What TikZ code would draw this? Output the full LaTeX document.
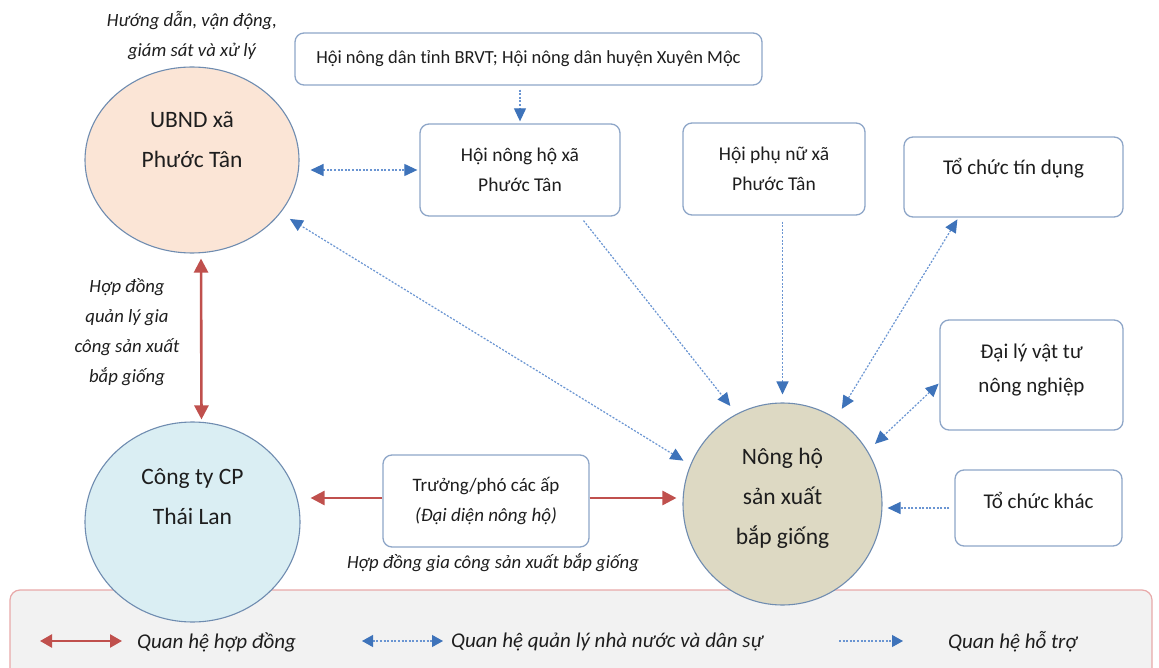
\documentclass[tikz,border=0pt]{standalone}
\usepackage{fontspec}
\setmainfont{Carlito}
\usetikzlibrary{arrows.meta,calc,shapes.geometric}
\definecolor{boxline}{HTML}{8EA6C8}
\definecolor{ellline}{HTML}{6F8CB0}
\definecolor{peach}{HTML}{FBE5D6}
\definecolor{ltblue}{HTML}{DAEEF3}
\definecolor{khaki}{HTML}{DDD9C3}
\definecolor{dotblue}{HTML}{6A95D2}
\definecolor{headblue}{HTML}{3E73BA}
\definecolor{redline}{HTML}{C0504D}
\definecolor{txt}{HTML}{1E1E1E}
\definecolor{legfill}{HTML}{F2F2F2}
\definecolor{legline}{HTML}{E8A9A9}
\tikzset{
  ell/.style={ellipse, draw=ellline, line width=1.1pt, inner sep=0pt},
  box/.style={draw=boxline, line width=1.3pt, rounded corners=9pt, fill=white, inner sep=0pt, align=center, text=txt, font=\fontsize{19.5}{30}\selectfont},
  btext/.style={align=center, inner sep=0pt, text=txt, font=\fontsize{21}{34}\selectfont},
  etext/.style={align=center, inner sep=0pt, text=txt, font=\fontsize{23.5}{40}\selectfont},
  lbl/.style={align=center, inner sep=0pt, text=txt, font=\itshape\fontsize{18.7}{30}\selectfont},
  legtext/.style={anchor=west, inner sep=0pt, text=txt, font=\itshape\fontsize{21}{24}\selectfont},
  bhead/.tip={Triangle[length=13pt,width=12pt,color=headblue]},
  rhead/.tip={Triangle[length=14pt,width=14pt,color=redline]},
  support/.style={draw=dotblue, line width=1.2pt, dash pattern=on 2pt off 1.6pt, -bhead},
  mutual/.style={draw=dotblue, line width=1.2pt, dash pattern=on 2pt off 1.6pt, bhead-bhead},
  contract/.style={draw=redline, line width=2.6pt, -rhead},
  contract2/.style={draw=redline, line width=2.6pt, rhead-rhead},
}
\begin{document}
\begin{tikzpicture}[x=1pt,y=-1pt]
\path[use as bounding box] (0,0) rectangle (1159,668);
\clip (0,0) rectangle (1159,668);
\fill[white] (0,0) rectangle (1159,668);

% legend panel
\node[draw=legline, line width=1.2pt, fill=legfill, rounded corners=10pt, minimum width=1142pt, minimum height=95pt, inner sep=0pt] (legend) at (581,637.5) {};

% ellipses
\node[ell, fill=peach, minimum width=214pt, minimum height=186pt] (ubnd) at (192,160) {};
\node[ell, fill=ltblue, minimum width=215pt, minimum height=200pt] (congty) at (192.5,522) {};
\node[ell, fill=khaki, minimum width=199pt, minimum height=202pt] (nongho) at (782.5,504) {};
\node[etext] (ubnd-t) at (192,140) {UBND xã\\Phước Tân};
\node[etext] (congty-t) at (192.5,497) {Công ty CP\\Thái Lan};
\node[etext] (nongho-t) at (782.5,498) {Nông hộ\\sản xuất\\bắp giống};

% boxes
\node[box, minimum width=467pt, minimum height=52pt, font=\fontsize{18.5}{30}\selectfont] (brvt) at (528.5,59) {Hội nông dân tỉnh BRVT; Hội nông dân huyện Xuyên Mộc};
\node[box, minimum width=200pt, minimum height=92pt] (hnh) at (520,170) {Hội nông hộ xã\\Phước Tân};
\node[box, minimum width=182pt, minimum height=92pt] (hpn) at (774,169) {Hội phụ nữ xã\\Phước Tân};
\node[box, minimum width=219pt, minimum height=80pt] (tcd) at (1013.5,177) {};
\node[btext] (tcd-t) at (1013.5,168) {Tổ chức tín dụng};
\node[box, minimum width=183pt, minimum height=110pt] (dl) at (1031.5,375) {};
\node[btext] (dl-t) at (1031.5,370) {Đại lý vật tư\\nông nghiệp};
\node[box, minimum width=167pt, minimum height=76pt] (tk) at (1038.5,508) {};
\node[btext] (tk-t) at (1038.5,500) {Tổ chức khác};
\node[box, minimum width=206pt, minimum height=92pt, font=\fontsize{19}{30}\selectfont] (tp) at (486,501) {Trưởng/phó các ấp\\\textit{(Đại diện nông hộ)}};

% labels
\node[lbl] (lbl-top) at (192,36) {Hướng dẫn, vận động,\\giám sát và xử lý};
\node[lbl] (lbl-left) at (127,332) {Hợp đồng\\quản lý gia\\công sản xuất\\bắp giống};
\node[lbl] (lbl-bottom) at (493,563) {Hợp đồng gia công sản xuất bắp giống};

% blue connectors
\draw[support, shorten <=4pt, shorten >=2pt] (hnh.north |- brvt.south) -- (hnh.north);
\draw[mutual, shorten <=11pt, shorten >=2pt] (ubnd.east |- hnh.west) -- (hnh.west);
\draw[support, shorten <=5pt, shorten >=10pt] ($(hnh.south)!0.6!(hnh.south east)$) -- (nongho.117);
\draw[support, shorten <=6pt, shorten >=8pt] (nongho.north |- hpn.south) -- (nongho.north);
\draw[mutual, shorten <=2pt, shorten >=11pt] ($(tcd.south west)!0.25!(tcd.south east)$) -- (nongho.58);
\draw[mutual, shorten <=1pt, shorten >=10pt] ($(dl.west)+(0,8)$) -- (nongho.32);
\draw[support, shorten <=5pt, shorten >=5pt] (tk.west) -- (tk.west -| nongho.east);
\draw[mutual, shorten <=8pt, shorten >=11pt] (nongho.157) -- (ubnd.-31);

% red connectors
\draw[contract2, shorten <=5pt, shorten >=2pt] ([xshift=9pt]ubnd.south) -- ([xshift=9pt]congty.north);
\draw[contract, shorten >=10pt] ([yshift=3pt]tp.west) -- ([yshift=3pt]tp.west -| congty.east);
\draw[contract, shorten >=6pt] ([yshift=3pt]tp.east) -- ([yshift=3pt]tp.east -| nongho.west);

% legend
\coordinate (l1a) at (40,641); \coordinate (l1b) at (122,641);
\coordinate (l2a) at (362,641); \coordinate (l2b) at (443,641);
\coordinate (l3a) at (839,641); \coordinate (l3b) at (903,641);
\draw[draw=redline, line width=2.4pt, {Triangle[length=12pt,width=13pt,color=redline]}-{Triangle[length=12pt,width=13pt,color=redline]}] (l1a) -- (l1b);
\draw[draw=dotblue, line width=1.2pt, dash pattern=on 2pt off 1.6pt, {Triangle[length=11pt,width=12pt,color=headblue]}-{Triangle[length=11pt,width=12pt,color=headblue]}] (l2a) -- (l2b);
\draw[draw=dotblue, line width=1.2pt, dash pattern=on 2pt off 1.6pt, -{Triangle[length=11pt,width=12pt,color=headblue]}] (l3a) -- (l3b);
\node[legtext] (leg1) at (137,642) {Quan hệ hợp đồng};
\node[legtext] (leg2) at (451,642) {Quan hệ quản lý nhà nước và dân sự};
\node[legtext] (leg3) at (948,642) {Quan hệ hỗ trợ};
\end{tikzpicture}
\end{document}
